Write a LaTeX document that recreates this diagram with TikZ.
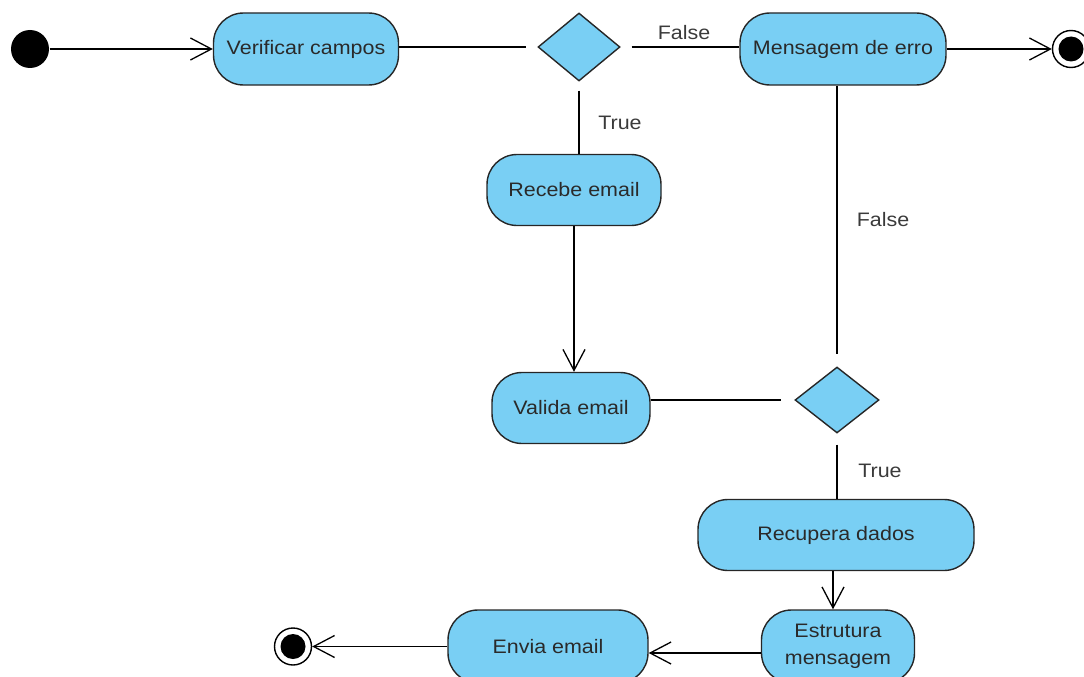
\documentclass[tikz,border=0pt]{standalone}
\usepackage{fontspec}
\setmainfont{Liberation Sans}[FakeStretch=1.1]
\usetikzlibrary{shapes.geometric,arrows.meta,calc}
\definecolor{actfill}{HTML}{79CFF4}
\definecolor{txt}{HTML}{2A2A2A}
\definecolor{lbltxt}{HTML}{3A3A3A}
\begin{document}
\begin{tikzpicture}[x=1pt,y=-1pt,
  font=\fontsize{19.5}{27}\selectfont,
  line width=1.3pt,
  act/.style={rectangle, rounded corners=30pt, draw=black!85, fill=actfill, line width=1.4pt, text=txt, align=center, inner sep=0pt},
  dec/.style={diamond, draw=black!85, fill=actfill, line width=1.4pt, minimum width=82pt, minimum height=68pt, inner sep=0pt},
  startnode/.style={circle, fill=black, minimum size=38pt, inner sep=0pt},
  endnode/.style={circle, draw=black, fill=white, line width=1.4pt, minimum size=37pt, inner sep=0pt},
  lbl/.style={text=lbltxt},
  arr/.style={-{Straight Barb[length=21pt,width=22pt]}}
]
\useasboundingbox (0,0) rectangle (1084,677);
\clip (0,0) rectangle (1084,677);

% nodes
\node[startnode] (init) at (30,49) {};
\node[act, minimum width=185pt, minimum height=72pt] (verif) at (306,49) {Verificar campos};
\node[dec] (d1) at (579,47) {};
\node[act, minimum width=206pt, minimum height=72pt] (mens) at (843,49) {Mensagem de erro};
\node[endnode] (fin1) at (1071,49) {};
\fill[black] (fin1.center) circle (12.5pt);
\node[act, minimum width=174pt, minimum height=71pt] (rec) at (574,190) {Recebe email};
\node[act, minimum width=158pt, minimum height=71pt] (val) at (571,408) {Valida email};
\node[dec, minimum width=84pt, minimum height=66pt] (d2) at (837,400) {};
\node[act, minimum width=276pt, minimum height=71pt] (recup) at (836,535) {Recupera dados};
\node[act, minimum width=153pt, minimum height=73pt] (estr) at (838,646.5) {Estrutura\\mensagem};
\node[act, minimum width=200pt, minimum height=73pt] (envia) at (548,646.5) {Envia email};
\node[endnode] (fin2) at (293,646.5) {};
\fill[black] (fin2.center) circle (12.5pt);

% labels
\node[lbl] (lf1) at (684,33) {False};
\node[lbl] (lt1) at (620,123) {True};
\node[lbl] (lf2) at (883,220) {False};
\node[lbl] (lt2) at (880,471) {True};

% connectors
\draw[arr] (init) -- (verif.west);
\draw (verif.east |- d1) -- ($(d1.west)+(-11,0)$);
\draw ($(d1.east)+(11,0)$) -- (mens.west |- d1);
\draw[arr] (mens.east) -- (fin1.west);
\draw ($(d1.south)+(0,9)$) -- (d1 |- rec.north);
\draw[arr] (rec.south) -- (rec.south |- val.north);
\draw (val.east |- d2) -- ($(d2.west)+(-13,0)$);
\draw (d2 |- mens.south) -- ($(d2.north)+(0,-12)$);
\draw ($(d2.south)+(0,11)$) -- (d2 |- recup.north);
\draw[arr] ([xshift=-3pt]recup.south) -- ([xshift=-3pt]recup.south |- estr.north);
\draw[arr] ([yshift=-6.5pt]estr.west) -- ([yshift=-6.5pt]envia.east);
\draw[arr] (envia.west) -- (fin2.east);
\end{tikzpicture}
\end{document}
